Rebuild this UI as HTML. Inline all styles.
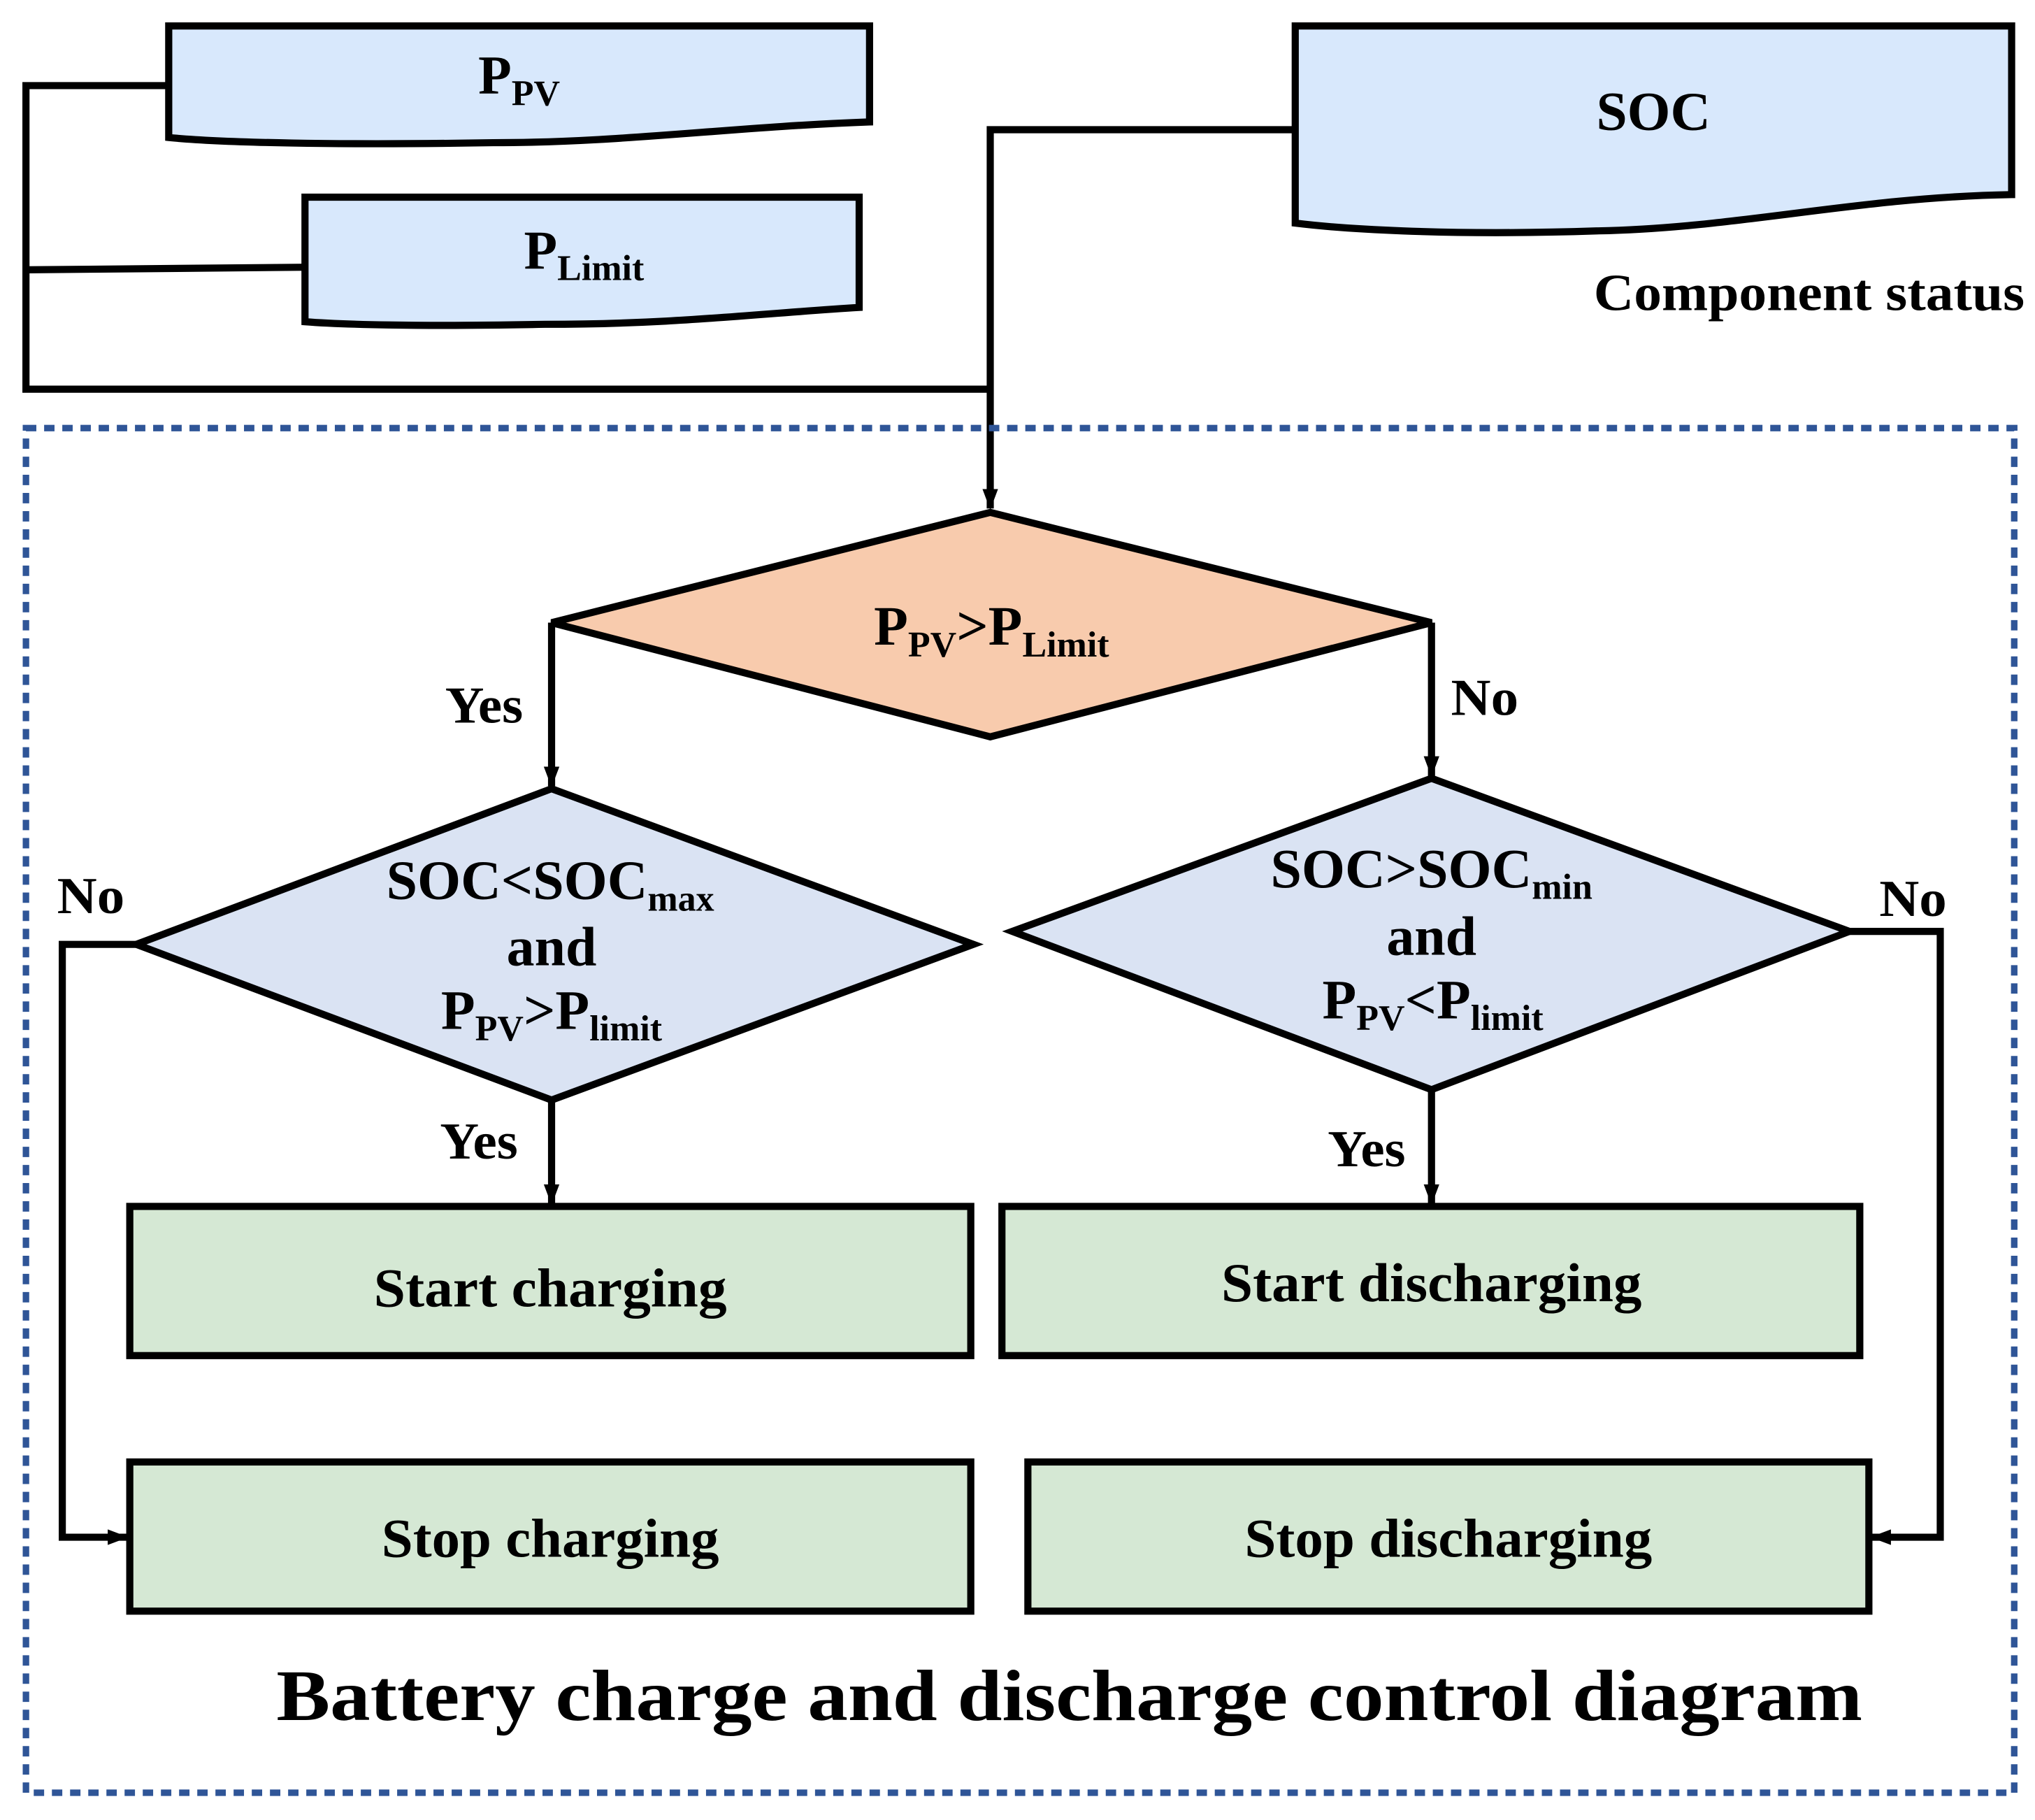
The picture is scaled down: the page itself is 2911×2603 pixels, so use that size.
<!DOCTYPE html>
<html><head><meta charset="utf-8"><style>
html,body{margin:0;padding:0;background:#fff}
svg{display:block}
text{font-family:"Liberation Serif",serif;font-weight:bold;fill:#000}
</style></head><body>
<svg width="2911" height="2603" viewBox="0 0 1568 1403" preserveAspectRatio="none" xmlns="http://www.w3.org/2000/svg">
<defs>
<marker id="ah" markerWidth="18" markerHeight="18" refX="15" refY="9" orient="auto" markerUnits="userSpaceOnUse"><path d="M0,3 L16,9 L0,15 z" fill="#000"/></marker></defs>
<g stroke="#000" stroke-width="5.5" fill="none">
<path d="M130,66 H20 V300 H763"/>
<path d="M235,206 L20,208"/>
<path d="M998,100 H763 V392" marker-end="url(#ah)"/>
</g>
<g stroke="#000" stroke-width="5.5" fill="#d8e8fc">
<path d="M130,20 H670 V94 C560,98 480,110 380,110 C260,112 170,110 130,106 Z"/>
<path d="M235,152 H662 V237 C580,242 520,250 420,250 C320,252 260,250 235,248 Z"/>
<path d="M998,20 H1550 V150 C1430,152 1340,176 1230,178 C1110,182 1030,176 998,172 Z"/>
</g>
<text x="400" y="72" font-size="42" text-anchor="middle">P<tspan font-size="28" dy="9">PV</tspan></text>
<text x="450" y="207" font-size="42" text-anchor="middle">P<tspan font-size="28" dy="9">Limit</tspan></text>
<text x="1274" y="100" font-size="42" text-anchor="middle" textLength="88" lengthAdjust="spacingAndGlyphs">SOC</text>
<text x="1394" y="239" font-size="40" text-anchor="middle" textLength="332" lengthAdjust="spacingAndGlyphs">Component status</text>
<rect x="20" y="330" width="1532" height="1052" fill="none" stroke="#2f5597" stroke-width="5" stroke-dasharray="8 6"/>
<g stroke="#000" stroke-width="5.5">
<path d="M763,395 L1103,480 L763,568 L425,480 Z" fill="#f8cbad"/>
<path d="M425,608 L750,728 L425,848 L105,728 Z" fill="#dae3f3"/>
<path d="M1103,600 L1425,718 L1103,840 L780,718 Z" fill="#dae3f3"/>
<rect x="100" y="930" width="648" height="115" fill="#d5e8d4"/>
<rect x="772" y="930" width="661" height="115" fill="#d5e8d4"/>
<rect x="100" y="1127" width="648" height="115" fill="#d5e8d4"/>
<rect x="792" y="1127" width="648" height="115" fill="#d5e8d4"/>
</g>
<g stroke="#000" stroke-width="5.5" fill="none">
<path d="M425,480 V606" marker-end="url(#ah)"/>
<path d="M1103,480 V598" marker-end="url(#ah)"/>
<path d="M425,848 V928" marker-end="url(#ah)"/>
<path d="M1103,840 V928" marker-end="url(#ah)"/>
<path d="M105,728 H48 V1185 H98" marker-end="url(#ah)"/>
<path d="M1425,718 H1495 V1185 H1442" marker-end="url(#ah)"/>
</g>
<text x="764" y="497" font-size="43" text-anchor="middle">P<tspan font-size="28" dy="9">PV</tspan><tspan dy="-9">&gt;P</tspan><tspan font-size="28" dy="9">Limit</tspan></text>
<text x="424" y="693" font-size="43" text-anchor="middle">SOC&lt;SOC<tspan font-size="28" dy="9">max</tspan></text>
<text x="425" y="744" font-size="43" text-anchor="middle">and</text>
<text x="425" y="793" font-size="43" text-anchor="middle">P<tspan font-size="28" dy="9">PV</tspan><tspan dy="-9">&gt;P</tspan><tspan font-size="28" dy="9">limit</tspan></text>
<text x="1103" y="684" font-size="43" text-anchor="middle">SOC&gt;SOC<tspan font-size="28" dy="9">min</tspan></text>
<text x="1103" y="736" font-size="43" text-anchor="middle">and</text>
<text x="1104" y="785" font-size="43" text-anchor="middle">P<tspan font-size="28" dy="9">PV</tspan><tspan dy="-9">&lt;P</tspan><tspan font-size="28" dy="9">limit</tspan></text>
<g font-size="40" text-anchor="middle">
<text x="373" y="557" textLength="60" lengthAdjust="spacingAndGlyphs">Yes</text>
<text x="1144" y="551" textLength="52" lengthAdjust="spacingAndGlyphs">No</text>
<text x="70" y="704" textLength="52" lengthAdjust="spacingAndGlyphs">No</text>
<text x="1474" y="706" textLength="52" lengthAdjust="spacingAndGlyphs">No</text>
<text x="369" y="893" textLength="60" lengthAdjust="spacingAndGlyphs">Yes</text>
<text x="1053" y="899" textLength="60" lengthAdjust="spacingAndGlyphs">Yes</text>
<text x="424" y="1007" font-size="42" textLength="272" lengthAdjust="spacingAndGlyphs">Start charging</text>
<text x="1103" y="1003" font-size="42" textLength="324" lengthAdjust="spacingAndGlyphs">Start discharging</text>
<text x="424" y="1200" font-size="42" textLength="260" lengthAdjust="spacingAndGlyphs">Stop charging</text>
<text x="1116" y="1200" font-size="42" textLength="314" lengthAdjust="spacingAndGlyphs">Stop discharging</text>
</g>
<text x="824" y="1326" font-size="56" text-anchor="middle" textLength="1222" lengthAdjust="spacingAndGlyphs">Battery charge and discharge control diagram</text>
</svg>
</body></html>
